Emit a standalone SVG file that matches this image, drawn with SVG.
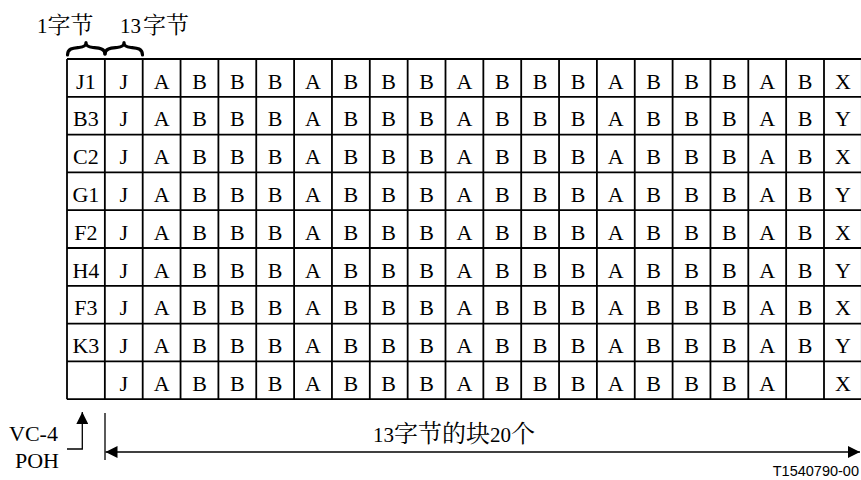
<svg xmlns="http://www.w3.org/2000/svg" width="861" height="480" viewBox="0 0 861 480">
<style>
.g{stroke:#000;stroke-width:1.8;fill:none}
.c{font-family:"Liberation Serif","Times New Roman",serif;font-size:22px;text-anchor:middle;fill:#000}
.l{font-family:"Liberation Serif","Times New Roman","Noto Sans CJK SC",serif;font-size:21px;fill:#000}
.cj{font-family:"Noto Serif CJK SC","Noto Sans CJK SC",serif;font-size:23px}
.ln{stroke:#000;stroke-width:1.3;fill:none}
.br{stroke:#000;stroke-width:3.2;fill:none;stroke-linejoin:round;stroke-linecap:round}
.t{font-family:"Liberation Sans",Arial,sans-serif;font-size:14.5px;text-anchor:end;fill:#000}
</style>
<defs>
<marker id="ah" viewBox="0 0 12 12" refX="12" refY="6" markerWidth="12" markerHeight="12" markerUnits="userSpaceOnUse" orient="auto-start-reverse"><path d="M0,0 L12,6 L0,12 Z" fill="#000"/></marker>
</defs>
<rect width="861" height="480" fill="#fff"/>
<g id="labels">
<text class="l" x="37" y="33">1<tspan class="cj">字节</tspan></text>
<text class="l" x="120" y="33">13<tspan class="cj" dx="2">字节</tspan></text>
<path class="br" d="M67.5,55 C67.5,48 74,48 79,47.5 C84,47 86,46 86,42.5 C86,46 88,47 93,47.5 C98,48 105,48 105,54"/>
<path class="br" d="M105,54 C105,48 112,48 117,47.5 C122,47 124,46 124,42.5 C124,46 126,47 131,47.5 C136,48 142.5,48 142.5,55"/>
</g>
<g id="grid" class="g">
<path d="M67,59 H862 M67,96.8 H862 M67,134.6 H862 M67,172.4 H862 M67,210.2 H862 M67,248 H862 M67,285.8 H862 M67,323.6 H862 M67,361.4 H862 M67,399.2 H862"/>
<path d="M67,59 V399.2 M104.85,59 V399.2 M142.7,59 V399.2 M180.55,59 V399.2 M218.4,59 V399.2 M256.25,59 V399.2 M294.1,59 V399.2 M331.95,59 V399.2 M369.8,59 V399.2 M407.65,59 V399.2 M445.5,59 V399.2 M483.35,59 V399.2 M521.2,59 V399.2 M559.05,59 V399.2 M596.9,59 V399.2 M634.75,59 V399.2 M672.6,59 V399.2 M710.45,59 V399.2 M748.3,59 V399.2 M786.15,59 V399.2 M824,59 V399.2 M861.85,59 V399.2"/>
</g>
<g id="row1" class="c">
<text x="85.9" y="88.5">J1</text><text x="123.8" y="88.5">J</text><text x="161.6" y="88.5">A</text><text x="199.5" y="88.5">B</text><text x="237.3" y="88.5">B</text><text x="275.2" y="88.5">B</text><text x="313" y="88.5">A</text><text x="350.9" y="88.5">B</text><text x="388.7" y="88.5">B</text><text x="426.6" y="88.5">B</text><text x="464.4" y="88.5">A</text><text x="502.3" y="88.5">B</text><text x="540.1" y="88.5">B</text><text x="578" y="88.5">B</text><text x="615.8" y="88.5">A</text><text x="653.7" y="88.5">B</text><text x="691.5" y="88.5">B</text><text x="729.4" y="88.5">B</text><text x="767.2" y="88.5">A</text><text x="805.1" y="88.5">B</text><text x="842.9" y="88.5">X</text>
</g>
<g id="row2" class="c">
<text x="85.9" y="126.3">B3</text><text x="123.8" y="126.3">J</text><text x="161.6" y="126.3">A</text><text x="199.5" y="126.3">B</text><text x="237.3" y="126.3">B</text><text x="275.2" y="126.3">B</text><text x="313" y="126.3">A</text><text x="350.9" y="126.3">B</text><text x="388.7" y="126.3">B</text><text x="426.6" y="126.3">B</text><text x="464.4" y="126.3">A</text><text x="502.3" y="126.3">B</text><text x="540.1" y="126.3">B</text><text x="578" y="126.3">B</text><text x="615.8" y="126.3">A</text><text x="653.7" y="126.3">B</text><text x="691.5" y="126.3">B</text><text x="729.4" y="126.3">B</text><text x="767.2" y="126.3">A</text><text x="805.1" y="126.3">B</text><text x="842.9" y="126.3">Y</text>
</g>
<g id="row3" class="c">
<text x="85.9" y="164.1">C2</text><text x="123.8" y="164.1">J</text><text x="161.6" y="164.1">A</text><text x="199.5" y="164.1">B</text><text x="237.3" y="164.1">B</text><text x="275.2" y="164.1">B</text><text x="313" y="164.1">A</text><text x="350.9" y="164.1">B</text><text x="388.7" y="164.1">B</text><text x="426.6" y="164.1">B</text><text x="464.4" y="164.1">A</text><text x="502.3" y="164.1">B</text><text x="540.1" y="164.1">B</text><text x="578" y="164.1">B</text><text x="615.8" y="164.1">A</text><text x="653.7" y="164.1">B</text><text x="691.5" y="164.1">B</text><text x="729.4" y="164.1">B</text><text x="767.2" y="164.1">A</text><text x="805.1" y="164.1">B</text><text x="842.9" y="164.1">X</text>
</g>
<g id="row4" class="c">
<text x="85.9" y="201.9">G1</text><text x="123.8" y="201.9">J</text><text x="161.6" y="201.9">A</text><text x="199.5" y="201.9">B</text><text x="237.3" y="201.9">B</text><text x="275.2" y="201.9">B</text><text x="313" y="201.9">A</text><text x="350.9" y="201.9">B</text><text x="388.7" y="201.9">B</text><text x="426.6" y="201.9">B</text><text x="464.4" y="201.9">A</text><text x="502.3" y="201.9">B</text><text x="540.1" y="201.9">B</text><text x="578" y="201.9">B</text><text x="615.8" y="201.9">A</text><text x="653.7" y="201.9">B</text><text x="691.5" y="201.9">B</text><text x="729.4" y="201.9">B</text><text x="767.2" y="201.9">A</text><text x="805.1" y="201.9">B</text><text x="842.9" y="201.9">Y</text>
</g>
<g id="row5" class="c">
<text x="85.9" y="239.7">F2</text><text x="123.8" y="239.7">J</text><text x="161.6" y="239.7">A</text><text x="199.5" y="239.7">B</text><text x="237.3" y="239.7">B</text><text x="275.2" y="239.7">B</text><text x="313" y="239.7">A</text><text x="350.9" y="239.7">B</text><text x="388.7" y="239.7">B</text><text x="426.6" y="239.7">B</text><text x="464.4" y="239.7">A</text><text x="502.3" y="239.7">B</text><text x="540.1" y="239.7">B</text><text x="578" y="239.7">B</text><text x="615.8" y="239.7">A</text><text x="653.7" y="239.7">B</text><text x="691.5" y="239.7">B</text><text x="729.4" y="239.7">B</text><text x="767.2" y="239.7">A</text><text x="805.1" y="239.7">B</text><text x="842.9" y="239.7">X</text>
</g>
<g id="row6" class="c">
<text x="85.9" y="277.5">H4</text><text x="123.8" y="277.5">J</text><text x="161.6" y="277.5">A</text><text x="199.5" y="277.5">B</text><text x="237.3" y="277.5">B</text><text x="275.2" y="277.5">B</text><text x="313" y="277.5">A</text><text x="350.9" y="277.5">B</text><text x="388.7" y="277.5">B</text><text x="426.6" y="277.5">B</text><text x="464.4" y="277.5">A</text><text x="502.3" y="277.5">B</text><text x="540.1" y="277.5">B</text><text x="578" y="277.5">B</text><text x="615.8" y="277.5">A</text><text x="653.7" y="277.5">B</text><text x="691.5" y="277.5">B</text><text x="729.4" y="277.5">B</text><text x="767.2" y="277.5">A</text><text x="805.1" y="277.5">B</text><text x="842.9" y="277.5">Y</text>
</g>
<g id="row7" class="c">
<text x="85.9" y="315.3">F3</text><text x="123.8" y="315.3">J</text><text x="161.6" y="315.3">A</text><text x="199.5" y="315.3">B</text><text x="237.3" y="315.3">B</text><text x="275.2" y="315.3">B</text><text x="313" y="315.3">A</text><text x="350.9" y="315.3">B</text><text x="388.7" y="315.3">B</text><text x="426.6" y="315.3">B</text><text x="464.4" y="315.3">A</text><text x="502.3" y="315.3">B</text><text x="540.1" y="315.3">B</text><text x="578" y="315.3">B</text><text x="615.8" y="315.3">A</text><text x="653.7" y="315.3">B</text><text x="691.5" y="315.3">B</text><text x="729.4" y="315.3">B</text><text x="767.2" y="315.3">A</text><text x="805.1" y="315.3">B</text><text x="842.9" y="315.3">X</text>
</g>
<g id="row8" class="c">
<text x="85.9" y="353.1">K3</text><text x="123.8" y="353.1">J</text><text x="161.6" y="353.1">A</text><text x="199.5" y="353.1">B</text><text x="237.3" y="353.1">B</text><text x="275.2" y="353.1">B</text><text x="313" y="353.1">A</text><text x="350.9" y="353.1">B</text><text x="388.7" y="353.1">B</text><text x="426.6" y="353.1">B</text><text x="464.4" y="353.1">A</text><text x="502.3" y="353.1">B</text><text x="540.1" y="353.1">B</text><text x="578" y="353.1">B</text><text x="615.8" y="353.1">A</text><text x="653.7" y="353.1">B</text><text x="691.5" y="353.1">B</text><text x="729.4" y="353.1">B</text><text x="767.2" y="353.1">A</text><text x="805.1" y="353.1">B</text><text x="842.9" y="353.1">Y</text>
</g>
<g id="row9" class="c">
<text x="123.8" y="390.9">J</text><text x="161.6" y="390.9">A</text><text x="199.5" y="390.9">B</text><text x="237.3" y="390.9">B</text><text x="275.2" y="390.9">B</text><text x="313" y="390.9">A</text><text x="350.9" y="390.9">B</text><text x="388.7" y="390.9">B</text><text x="426.6" y="390.9">B</text><text x="464.4" y="390.9">A</text><text x="502.3" y="390.9">B</text><text x="540.1" y="390.9">B</text><text x="578" y="390.9">B</text><text x="615.8" y="390.9">A</text><text x="653.7" y="390.9">B</text><text x="691.5" y="390.9">B</text><text x="729.4" y="390.9">B</text><text x="767.2" y="390.9">A</text><text x="842.9" y="390.9">X</text>
</g>
<g id="poh-label">
<text class="l" x="9" y="441" style="font-size:22px">VC-4</text>
<text class="l" x="15" y="468" style="font-size:22px">POH</text>
</g>
<g id="span-label">
<text class="l" x="373" y="442">13<tspan class="cj" style="font-size:24px">字节的块</tspan>20<tspan class="cj" style="font-size:24px">个</tspan></text>
</g>
<g id="connectors">
<path class="ln" d="M67,449 H82.3 V412" marker-end="url(#ah)"/>
<path class="ln" d="M105,413 V460"/>
<path class="ln" d="M105.5,452 H860" marker-start="url(#ah)" marker-end="url(#ah)"/>
</g>
<text class="t" x="859" y="476">T1540790-00</text>
</svg>
